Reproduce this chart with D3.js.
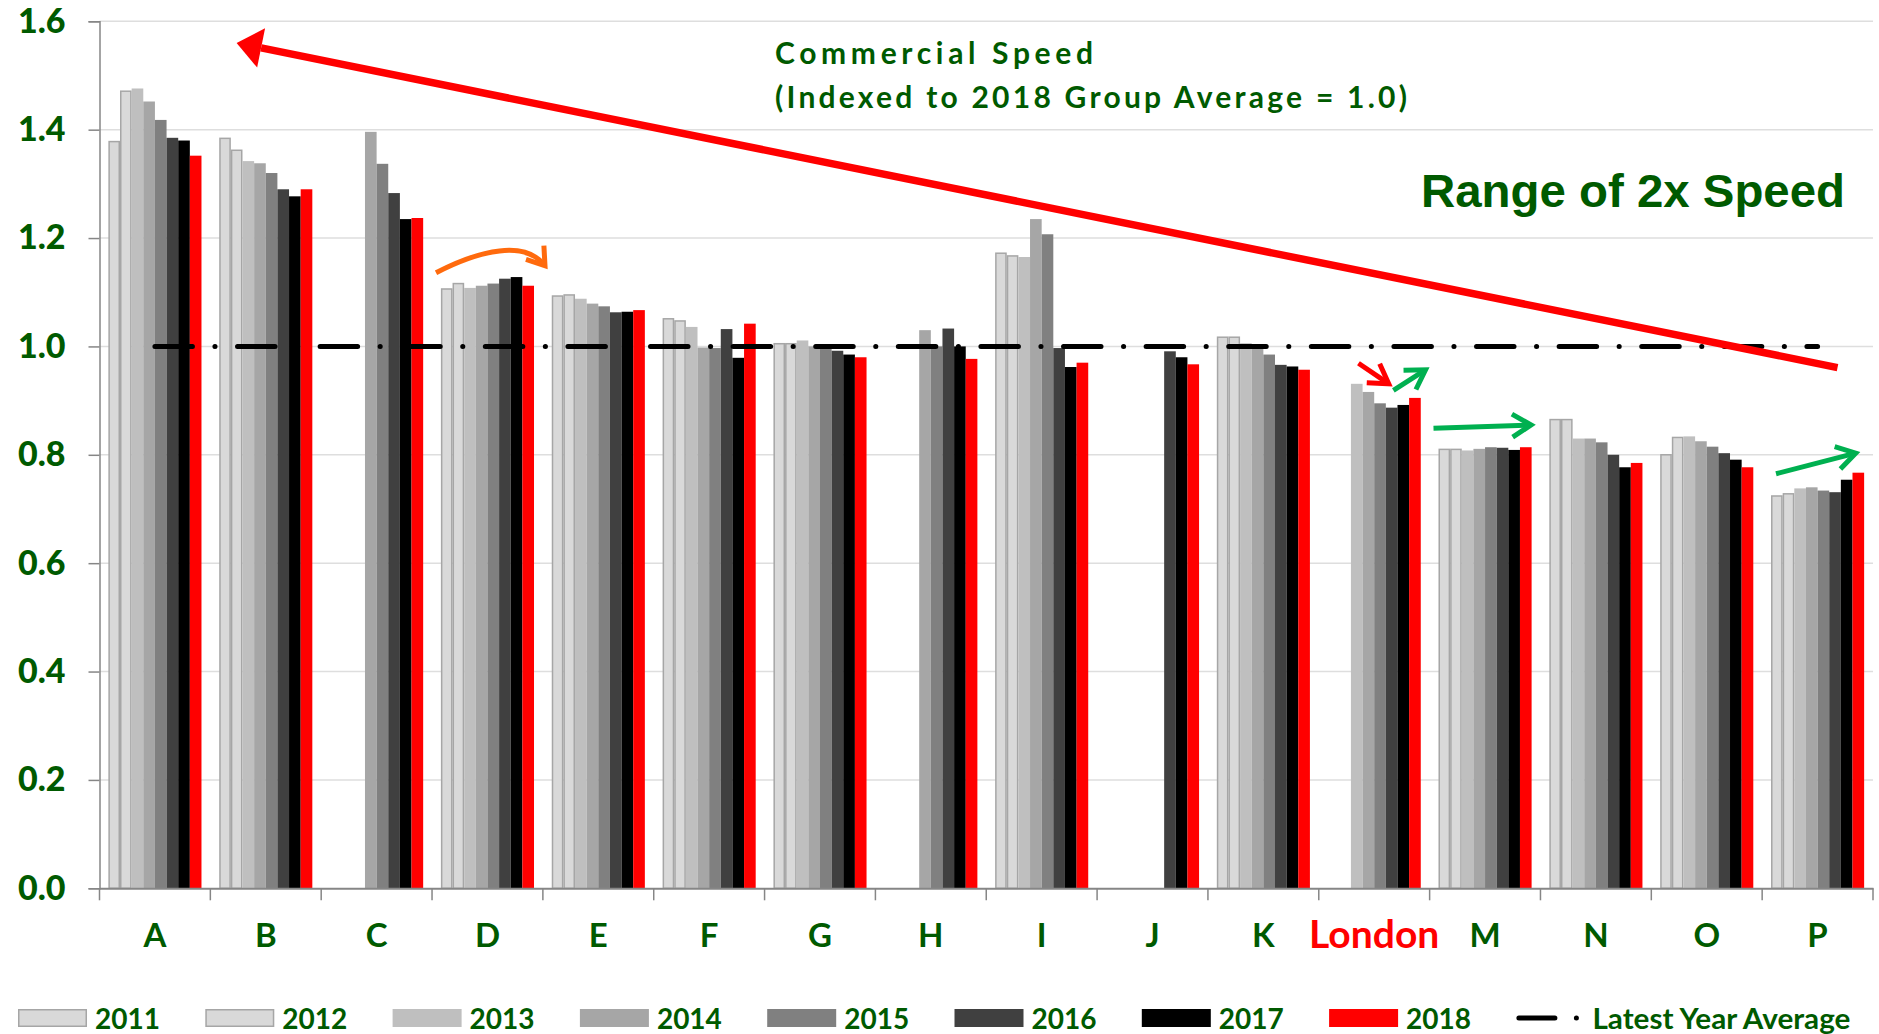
<!DOCTYPE html>
<html>
<head>
<meta charset="utf-8">
<script src="https://cdn.jsdelivr.net/npm/d3@7"></script>
<style>
  body { margin: 0; background: #ffffff; }
  svg { display: block; font-family: Lato, "Open Sans", sans-serif; }
</style>
</head>
<body>
<svg id="chart" width="1879" height="1034"></svg>
<script>
// ---- data -------------------------------------------------------------
const cities = ["A", "B", "C", "D", "E", "F", "G", "H", "I", "J", "K", "London", "M", "N", "O", "P"];
const years = ["2011", "2012", "2013", "2014", "2015", "2016", "2017", "2018"];
const tickValues = [0, 0.2, 0.4, 0.6, 0.8, 1.0, 1.2, 1.4, 1.6];

// commercial speed, indexed to the 2018 group average (null = no data)
const speed2011 = [1.378, 1.384, null, 1.106, 1.093, 1.051, 1.005, null, 1.172, null, 1.017, null, 0.810, 0.865, 0.800, 0.724];
const speed2012 = [1.471, 1.362, null, 1.116, 1.095, 1.047, 1.005, null, 1.167, null, 1.017, null, 0.810, 0.865, 0.832, 0.728];
const speed2013 = [1.476, 1.342, null, 1.108, 1.088, 1.036, 1.011, null, 1.165, null, 1.006, 0.931, 0.808, 0.830, 0.834, 0.738];
const speed2014 = [1.452, 1.338, 1.396, 1.112, 1.079, 0.998, 1.000, 1.030, 1.235, null, 1.000, 0.916, 0.811, 0.830, 0.825, 0.740];
const speed2015 = [1.418, 1.320, 1.337, 1.116, 1.074, 0.997, 0.997, 1.000, 1.207, null, 0.985, 0.895, 0.814, 0.823, 0.815, 0.734];
const speed2016 = [1.385, 1.290, 1.283, 1.125, 1.063, 1.032, 0.992, 1.033, 0.997, 0.991, 0.966, 0.887, 0.813, 0.800, 0.803, 0.731];
const speed2017 = [1.380, 1.277, 1.235, 1.128, 1.064, 0.979, 0.985, 1.000, 0.962, 0.980, 0.963, 0.892, 0.809, 0.777, 0.791, 0.754];
const speed2018 = [1.352, 1.290, 1.237, 1.112, 1.067, 1.042, 0.980, 0.977, 0.970, 0.967, 0.957, 0.905, 0.814, 0.785, 0.777, 0.767];
const latestYearAverage = 1.0;

const seriesValues = [speed2011, speed2012, speed2013, speed2014, speed2015, speed2016, speed2017, speed2018];

// ---- style ------------------------------------------------------------
const fills   = ["#d9d9d9", "#d9d9d9", "#bfbfbf", "#a6a6a6", "#808080", "#404040", "#000000", "#ff0000"];
const strokes = ["#a6a6a6", "#a6a6a6", null, null, null, null, null, null];
const GREEN = "#005a00";
const AXIS = "#868686";

// ---- layout -----------------------------------------------------------
const svg = d3.select("#chart");
const plotLeft = 99.5, plotRight = 1873, plotTop = 21.3, plotBottom = 888.3;

const x = d3.scaleBand().domain(cities).range([plotLeft, plotRight]).padding(0);
const xYear = d3.scaleBand().domain(years)
  .range([x.bandwidth() * 0.08, x.bandwidth() * 0.92]).padding(0);
const y = d3.scaleLinear().domain([0, 1.6]).range([plotBottom, plotTop]);
// continuous position along the category axis (1 unit = 1 category)
const xc = d3.scaleLinear().domain([0, cities.length]).range([plotLeft, plotRight]);

// gridlines
svg.append("g").selectAll("line")
  .data(tickValues.filter(v => v > 0))
  .join("line")
  .attr("x1", plotLeft).attr("x2", plotRight)
  .attr("y1", d => y(d)).attr("y2", d => y(d))
  .attr("stroke", "#dedede").attr("stroke-width", 1.5);

// bars
const rows = [];
cities.forEach((c, ci) => {
  years.forEach((yr, yi) => {
    const v = seriesValues[yi][ci];
    if (v != null) rows.push({ city: c, year: yr, yi, value: v });
  });
});

svg.append("g").selectAll("rect")
  .data(rows)
  .join("rect")
  .attr("x", d => x(d.city) + xYear(d.year) + (strokes[d.yi] ? 0.75 : 0))
  .attr("width", d => xYear.bandwidth() - (strokes[d.yi] ? 1.5 : 0))
  .attr("y", d => y(d.value))
  .attr("height", d => y(0) - y(d.value))
  .attr("fill", d => fills[d.yi])
  .attr("stroke", d => strokes[d.yi] || "none")
  .attr("stroke-width", 1.5);

// y axis
const yAxis = svg.append("g")
  .attr("transform", `translate(${plotLeft},0)`)
  .call(d3.axisLeft(y).tickValues(tickValues).tickFormat(d3.format(".1f")).tickSize(11).tickPadding(23));
yAxis.select(".domain").attr("stroke", AXIS).attr("stroke-width", 1.5);
yAxis.selectAll(".tick line").attr("stroke", AXIS).attr("stroke-width", 1.5);
yAxis.selectAll(".tick text")
  .attr("fill", GREEN).attr("font-size", 34).attr("font-weight", 900)
  .attr("font-family", "Lato, 'Open Sans', sans-serif");

// x axis
const xAxis = svg.append("g")
  .attr("transform", `translate(0,${plotBottom})`)
  .call(d3.axisBottom(x).tickSize(0).tickPadding(35));
xAxis.select(".domain").attr("stroke", AXIS).attr("stroke-width", 2);
xAxis.selectAll(".tick text")
  .attr("fill", d => d === "London" ? "#ff0000" : GREEN)
  .attr("font-size", d => d === "London" ? 39 : 33)
  .attr("dy", d => d === "London" ? "0.64em" : "0.71em")
  .attr("font-weight", "bold")
  .attr("font-family", "Lato, 'Open Sans', sans-serif");
// category boundary ticks
xAxis.append("g").selectAll("line")
  .data(d3.range(cities.length + 1))
  .join("line")
  .attr("x1", d => xc(d)).attr("x2", d => xc(d))
  .attr("y1", 0).attr("y2", 12)
  .attr("stroke", AXIS).attr("stroke-width", 1.5);

// latest-year average (dash-dot)
svg.append("line")
  .attr("x1", xc(0.5)).attr("x2", xc(cities.length - 0.5))
  .attr("y1", y(latestYearAverage)).attr("y2", y(latestYearAverage))
  .attr("stroke", "#000").attr("stroke-width", 5)
  .attr("stroke-linecap", "round")
  .attr("stroke-dasharray", "37.5,22.5,0.1,22.5");

// ---- annotation arrows (category units, index value) -------------------
const rangeArrow = [[15.68, 0.961], [1.237, 1.560]];
const dArrow = [[3.036, 1.136], [3.433, 1.178], [3.839, 1.197], [4.019, 1.149]];
const londonDownArrow = [[11.358, 0.969], [11.631, 0.931]];
const londonUpArrow = [[11.673, 0.919], [11.963, 0.957]];
const mArrow = [[12.035, 0.849], [12.915, 0.855]];
const pArrow = [[15.125, 0.765], [15.844, 0.803]];

const toPx = p => [xc(p[0]), y(p[1])];

function chevron(g, tip, dir, color, len, ang, w) {
  const [dx, dy] = dir;
  const rot = a => [dx * Math.cos(a) - dy * Math.sin(a), dx * Math.sin(a) + dy * Math.cos(a)];
  const r1 = rot(ang), r2 = rot(-ang);
  g.append("path")
    .attr("d", `M${tip[0] - len * r1[0]},${tip[1] - len * r1[1]}L${tip[0]},${tip[1]}L${tip[0] - len * r2[0]},${tip[1] - len * r2[1]}`)
    .attr("fill", "none").attr("stroke", color).attr("stroke-width", w)
    .attr("stroke-linejoin", "miter").attr("stroke-linecap", "butt");
}

function straightArrow(pts, color, w) {
  const a = toPx(pts[0]), b = toPx(pts[1]);
  const L = Math.hypot(b[0] - a[0], b[1] - a[1]);
  const dir = [(b[0] - a[0]) / L, (b[1] - a[1]) / L];
  const g = svg.append("g");
  g.append("line")
    .attr("x1", a[0]).attr("y1", a[1]).attr("x2", b[0] - dir[0] * 2).attr("y2", b[1] - dir[1] * 2)
    .attr("stroke", color).attr("stroke-width", w);
  chevron(g, b, dir, color, 22, 0.55, w);
}

// big red "range" arrow with filled head
{
  const a = toPx(rangeArrow[0]), b = toPx(rangeArrow[1]);
  const L = Math.hypot(b[0] - a[0], b[1] - a[1]);
  const d = [(b[0] - a[0]) / L, (b[1] - a[1]) / L];
  const n = [-d[1], d[0]];
  const headLen = 25, headHalf = 20;
  const base = [b[0] - d[0] * headLen, b[1] - d[1] * headLen];
  svg.append("line")
    .attr("x1", a[0]).attr("y1", a[1]).attr("x2", base[0]).attr("y2", base[1])
    .attr("stroke", "#ff0000").attr("stroke-width", 7.5);
  svg.append("path")
    .attr("d", `M${b[0]},${b[1]}L${base[0] + n[0] * headHalf},${base[1] + n[1] * headHalf}L${base[0] - n[0] * headHalf},${base[1] - n[1] * headHalf}Z`)
    .attr("fill", "#ff0000");
}

// curved orange arrow over D
{
  const p = dArrow.map(toPx);
  const g = svg.append("g");
  g.append("path")
    .attr("d", `M${p[0]}C${p[1]} ${p[2]} ${p[3]}`)
    .attr("fill", "none").attr("stroke", "#ff6a0d").attr("stroke-width", 5);
  const L = Math.hypot(p[3][0] - p[2][0], p[3][1] - p[2][1]);
  chevron(g, p[3], [(p[3][0] - p[2][0]) / L, (p[3][1] - p[2][1]) / L], "#ff6a0d", 20, 0.6, 5);
}

straightArrow(londonDownArrow, "#ff0000", 5);
straightArrow(londonUpArrow, "#00b050", 5);
straightArrow(mArrow, "#00b050", 5);
straightArrow(pArrow, "#00b050", 5);

// ---- titles -----------------------------------------------------------
svg.append("text")
  .attr("x", 775).attr("y", 64)
  .attr("fill", GREEN).attr("font-size", 30).attr("font-weight", "bold")
  .attr("textLength", 318).attr("lengthAdjust", "spacing")
  .text("Commercial Speed");
svg.append("text")
  .attr("x", 775).attr("y", 108)
  .attr("fill", GREEN).attr("font-size", 30).attr("font-weight", "bold")
  .attr("textLength", 632).attr("lengthAdjust", "spacing")
  .text("(Indexed to 2018 Group Average = 1.0)");
svg.append("text")
  .attr("x", 1421).attr("y", 207)
  .attr("fill", GREEN).attr("font-size", 47).attr("font-weight", "bold")
  .attr("font-family", "'Liberation Sans', Arial, sans-serif")
  .attr("textLength", 424).attr("lengthAdjust", "spacingAndGlyphs")
  .text("Range of 2x Speed");

// ---- legend -----------------------------------------------------------
const legend = svg.append("g");
const legStep = 187.3, legX0 = 18, legY = 1009;
years.forEach((yr, i) => {
  const gx = legX0 + i * legStep;
  legend.append("rect")
    .attr("x", gx + (strokes[i] ? 0.75 : 0)).attr("y", legY + (strokes[i] ? 0.75 : 0))
    .attr("width", 69 - (strokes[i] ? 1.5 : 0)).attr("height", 18 - (strokes[i] ? 1.5 : 0))
    .attr("fill", fills[i]).attr("stroke", strokes[i] || "none").attr("stroke-width", 1.5);
  legend.append("text")
    .attr("x", gx + 77).attr("y", legY + 19.5)
    .attr("fill", GREEN).attr("font-size", 28).attr("font-weight", "bold")
    .text(yr);
});
{
  const gx = legX0 + years.length * legStep;
  legend.append("line")
    .attr("x1", gx + 2.5).attr("x2", gx + 38.5)
    .attr("y1", legY + 9).attr("y2", legY + 9)
    .attr("stroke", "#000").attr("stroke-width", 5).attr("stroke-linecap", "round");
  legend.append("circle")
    .attr("cx", gx + 60).attr("cy", legY + 9).attr("r", 2.5).attr("fill", "#000");
  legend.append("text")
    .attr("x", gx + 76).attr("y", legY + 19.5)
    .attr("fill", GREEN).attr("font-size", 28).attr("font-weight", "bold")
    .attr("textLength", 258).attr("lengthAdjust", "spacingAndGlyphs")
    .text("Latest Year Average");
}
</script>
</body>
</html>
